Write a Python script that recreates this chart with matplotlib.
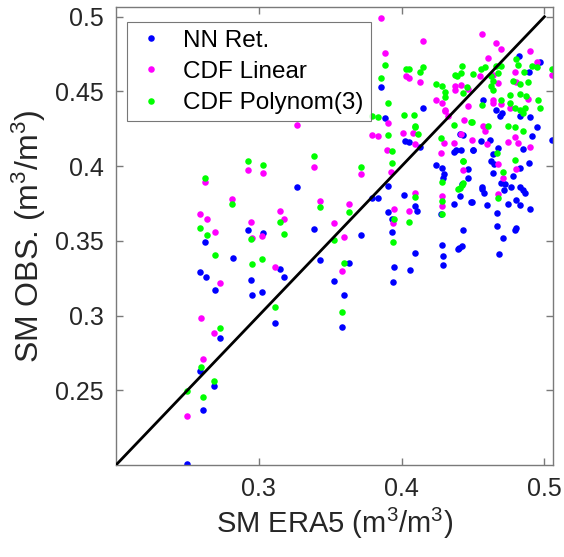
import matplotlib
matplotlib.use("Agg")
import matplotlib.pyplot as plt
import numpy as np

plt.rcParams['font.family'] = ['Liberation Sans', 'DejaVu Sans']
plt.rcParams['mathtext.fontset'] = 'custom'
plt.rcParams['mathtext.rm'] = 'Liberation Sans'

# ---------------- data ----------------
nn_x = [0.250, 0.261, 0.2685, 0.259, 0.2725, 0.311, 0.315, 0.3175, 0.343, 0.295, 0.302, 0.2945,
        0.282, 0.259, 0.263, 0.2695, 0.262, 0.2925, 0.303, 0.3385, 0.327, 0.3716, 0.3635, 0.353,
        0.360, 0.3586, 0.3858, 0.415, 0.3886, 0.4025, 0.405, 0.413, 0.3907, 0.3793, 0.3834, 0.3904,
        0.3932, 0.3932, 0.4016, 0.4095, 0.411, 0.4276, 0.4365, 0.441, 0.4408, 0.4369, 0.438, 0.424,
        0.4286, 0.4295, 0.4293, 0.4497, 0.456, 0.4578, 0.4487, 0.4429, 0.4571, 0.482, 0.4971, 0.4894,
        0.4664, 0.470, 0.4688, 0.4897, 0.4827, 0.4948, 0.5054, 0.4913, 0.485, 0.4676, 0.4641, 0.4629,
        0.4648, 0.4641, 0.4827, 0.4889, 0.478, 0.4694, 0.4722, 0.4768, 0.4718, 0.4827, 0.485, 0.4861,
        0.4803, 0.4827, 0.4746, 0.4897, 0.4671, 0.4601, 0.449, 0.4564, 0.4671, 0.4803, 0.4462, 0.4462,
        0.4425, 0.4502, 0.4555, 0.4618, 0.4432, 0.4416, 0.4095, 0.3944, 0.3939, 0.4056, 0.4281, 0.4288,
        0.4293, 0.4392, 0.4425, 0.4404, 0.471, 0.468, 0.4796]
nn_y = [0.2005, 0.237, 0.253, 0.263, 0.285, 0.295, 0.331, 0.326, 0.337, 0.314, 0.316, 0.324,
        0.3385, 0.329, 0.326, 0.317, 0.349, 0.357, 0.355, 0.358, 0.386, 0.354, 0.335, 0.323,
        0.314, 0.2925, 0.453, 0.439, 0.432, 0.417, 0.416, 0.413, 0.387, 0.379, 0.379, 0.3696,
        0.3645, 0.3556, 0.381, 0.3733, 0.370, 0.368, 0.3747, 0.380, 0.4216, 0.4093, 0.4107, 0.4007,
        0.399, 0.395, 0.392, 0.4107, 0.386, 0.382, 0.3763, 0.3573, 0.444, 0.4738, 0.470, 0.4631,
        0.4378, 0.4356, 0.4333, 0.4329, 0.4338, 0.4263, 0.4173, 0.420, 0.4116, 0.4122, 0.4078, 0.4033,
        0.4011, 0.3956, 0.3989, 0.4023, 0.3933, 0.3889, 0.3878, 0.3862, 0.384, 0.3862, 0.384, 0.3818,
        0.3773, 0.374, 0.3745, 0.3711, 0.3689, 0.3738, 0.376, 0.3849, 0.360, 0.3583, 0.3978, 0.3922,
        0.3878, 0.4107, 0.4167, 0.4173, 0.4211, 0.4107, 0.3418, 0.3323, 0.3227, 0.3307, 0.3471, 0.3396,
        0.3338, 0.3445, 0.3467, 0.3449, 0.3518, 0.3411, 0.3571]

lin_x = [0.25, 0.2608, 0.2683, 0.2594, 0.3113, 0.2725, 0.2695, 0.295, 0.3022, 0.3268, 0.2927, 0.3029,
         0.3387, 0.262, 0.2815, 0.3431, 0.259, 0.2634, 0.2946, 0.3148, 0.3175, 0.3716, 0.3635, 0.3528,
         0.360, 0.3586, 0.3858, 0.4149, 0.3886, 0.4033, 0.4049, 0.4132, 0.4239, 0.4286, 0.4304, 0.3907,
         0.3793, 0.3834, 0.4079, 0.4095, 0.39, 0.3928, 0.3946, 0.4055, 0.4095, 0.4286, 0.4286, 0.4434,
         0.4416, 0.4369, 0.4276, 0.4566, 0.4664, 0.4694, 0.4897, 0.4606, 0.4947, 0.4792, 0.5052, 0.4803,
         0.4676, 0.4641, 0.4548, 0.4416, 0.4467, 0.4462, 0.4641, 0.4641, 0.4699, 0.4885, 0.4757, 0.4897,
         0.4746, 0.4792, 0.4815, 0.4676, 0.4803, 0.471, 0.4676, 0.449, 0.4432, 0.4601, 0.4571, 0.4583,
         0.4013, 0.4299, 0.3938, 0.4373, 0.4373, 0.4304, 0.4328]
lin_y = [0.2327, 0.2707, 0.2883, 0.2985, 0.3323, 0.3218, 0.3556, 0.3522, 0.3533, 0.4278, 0.3976, 0.3953,
         0.3996, 0.3893, 0.3782, 0.3765, 0.368, 0.3643, 0.3625, 0.3698, 0.3645, 0.3947, 0.3745, 0.362,
         0.3523, 0.3296, 0.4989, 0.4838, 0.476, 0.4603, 0.4593, 0.456, 0.4443, 0.442, 0.4378, 0.4291,
         0.4209, 0.4205, 0.4222, 0.4145, 0.4107, 0.396, 0.3716, 0.3703, 0.3818, 0.38, 0.3733, 0.4309,
         0.4215, 0.4156, 0.4089, 0.4887, 0.4823, 0.4787, 0.4773, 0.4727, 0.470, 0.4627, 0.4611, 0.456,
         0.4556, 0.4611, 0.4605, 0.4545, 0.4516, 0.440, 0.4445, 0.4423, 0.4418, 0.4449, 0.4389, 0.4129,
         0.416, 0.4196, 0.4156, 0.4011, 0.3978, 0.3922, 0.3811, 0.4173, 0.3973, 0.4151, 0.4271, 0.4233,
         0.4222, 0.4156, 0.3618, 0.4533, 0.4511, 0.4367, 0.4333]

poly_x = [0.25, 0.2611, 0.2685, 0.2594, 0.2725, 0.3113, 0.295, 0.3022, 0.2695, 0.2634, 0.259, 0.2946,
          0.3175, 0.2927, 0.3029, 0.3387, 0.262, 0.2815, 0.3431, 0.3148, 0.3716, 0.3635, 0.3528, 0.360,
          0.3586, 0.3886, 0.3858, 0.3907, 0.4033, 0.4049, 0.4149, 0.4132, 0.4239, 0.4286, 0.4304, 0.4304,
          0.3793, 0.3834, 0.3907, 0.4016, 0.409, 0.4095, 0.3932, 0.3932, 0.3946, 0.4055, 0.4095, 0.4286,
          0.4286, 0.4397, 0.4425, 0.4369, 0.4485, 0.4427, 0.4286, 0.4804, 0.4815, 0.4555, 0.4582, 0.4664,
          0.4676, 0.4699, 0.4947, 0.4913, 0.4854, 0.5052, 0.478, 0.4827, 0.4885, 0.4629, 0.4641, 0.4629,
          0.4641, 0.4502, 0.442, 0.4416, 0.4455, 0.4432, 0.4757, 0.4827, 0.4873, 0.4955, 0.4564, 0.4694,
          0.4757, 0.4792, 0.4827, 0.4861, 0.4966, 0.485, 0.4671, 0.4796, 0.471, 0.4676, 0.4432, 0.4432,
          0.4408, 0.449, 0.4606, 0.4746, 0.4792, 0.485, 0.4276, 0.4095, 0.4113, 0.3939, 0.4373, 0.4385]
poly_y = [0.2498, 0.2456, 0.256, 0.2653, 0.292, 0.306, 0.3347, 0.3376, 0.3407, 0.3538, 0.3585, 0.3511,
          0.3545, 0.4036, 0.4007, 0.4065, 0.3922, 0.3749, 0.3725, 0.3625, 0.3996, 0.3693, 0.3503, 0.3351,
          0.3027, 0.4676, 0.4587, 0.4425, 0.4651, 0.4647, 0.4663, 0.4631, 0.4553, 0.4536, 0.4498, 0.446,
          0.4336, 0.4331, 0.4209, 0.4345, 0.4345, 0.4267, 0.4098, 0.4018, 0.3649, 0.3629, 0.3796, 0.3769,
          0.3678, 0.3849, 0.3876, 0.4276, 0.4296, 0.4036, 0.3893, 0.4716, 0.4676, 0.4649, 0.4663, 0.4667,
          0.4623, 0.4671, 0.4662, 0.4667, 0.4629, 0.4649, 0.4567, 0.4551, 0.456, 0.460, 0.4567, 0.4533,
          0.4511, 0.4618, 0.4667, 0.4622, 0.4529, 0.4489, 0.4478, 0.4485, 0.4471, 0.4445, 0.4412, 0.4445,
          0.4423, 0.4389, 0.4378, 0.4389, 0.4389, 0.4356, 0.4089, 0.4044, 0.396, 0.3789, 0.4033, 0.3889,
          0.3856, 0.4293, 0.4271, 0.4267, 0.426, 0.4233, 0.4189, 0.4262, 0.4218, 0.3493, 0.4611, 0.460]

one_to_one = [0.2, 0.5]
series_labels = ['NN Ret.', 'CDF Linear', 'CDF Polynom(3)']
xticks = [0.3, 0.4, 0.5]
yticks = [0.25, 0.3, 0.35, 0.4, 0.45, 0.5]

# ---------------- figure ----------------
fig = plt.figure(figsize=(5.64, 5.57), dpi=100)
ax = fig.add_axes([116/564, 1 - 465/557, (553-116)/564, (465-7)/557])

ms = 4.7
ax.plot(nn_x, nn_y, 'o', color='#0000ff', ms=ms, mec='none', label=series_labels[0])
ax.plot(lin_x, lin_y, 'o', color='#ff00ff', ms=ms, mec='none', label=series_labels[1])
ax.plot(poly_x, poly_y, 'o', color='#00ff00', ms=ms, mec='none', label=series_labels[2])
ax.plot(one_to_one, one_to_one, '-', color='black', lw=2.0, zorder=5)

ax.set_xlim(0.2, 0.506)
ax.set_ylim(0.2, 0.5065)
ax.set_xticks(xticks)
ax.set_xticklabels([f'{t:g}' for t in xticks])
ax.set_yticks(yticks)
ax.set_yticklabels([f'{t:g}' for t in yticks])

gray = '#7a7a7a'
for s in ax.spines.values():
    s.set_color(gray)
    s.set_linewidth(1.0)
ax.tick_params(direction='in', length=5, width=1.0, colors=gray, labelcolor='#262626',
               labelsize=18, top=True, right=True, pad=9)

ax.set_xlabel(r'SM ERA5 (m$\mathregular{^3}$/m$\mathregular{^3}$)', fontsize=21, color='#262626', labelpad=3)
ax.set_ylabel(r'SM OBS. (m$\mathregular{^3}$/m$\mathregular{^3}$)', fontsize=23, color='#262626', labelpad=5)

leg = ax.legend(loc='upper left', bbox_to_anchor=(0.02, 0.972), fontsize=17.5, frameon=True,
                fancybox=False, edgecolor='#555555', handletextpad=0.6, borderpad=0.3,
                labelspacing=0.38, handlelength=1.4, markerscale=1.0, borderaxespad=0.1)
leg.get_frame().set_linewidth(0.8)

fig.savefig('out.png', dpi=100)
